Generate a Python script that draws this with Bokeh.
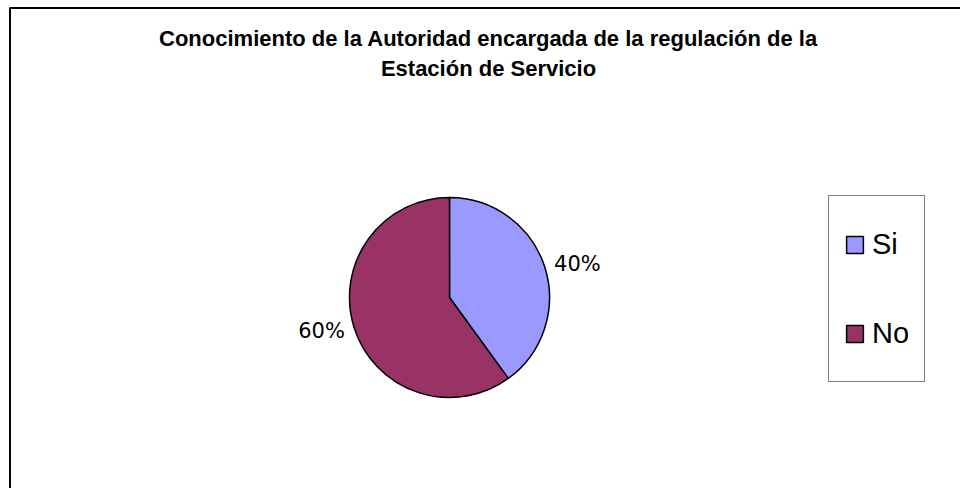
import numpy as np
from bokeh.plotting import figure
from bokeh.models import ColumnDataSource, Range1d, Label, BoxAnnotation
from bokeh.embed import file_html
from bokeh.resources import INLINE

categories = ["Si", "No"]
values = [40, 60]
colors = ["#9999FF", "#993366"]
title_lines = ["Conocimiento de la Autoridad encargada de la regulación de la",
               "Estación de Servicio"]

W, H = 960, 488
PX = 100.0            # pixels per unit (pie radius = 1 unit)
CX, CY = 449, 297     # pie centre in frame pixels (from left / from top)
x0 = -CX / PX
y1 = CY / PX
x1 = x0 + W / PX
y0 = y1 - H / PX

p = figure(width=W, height=H, x_range=Range1d(x0, x1),
           y_range=Range1d(y0, y1), output_backend="svg",
           toolbar_location=None, min_border=0)
p.axis.visible = False
p.grid.visible = False
p.outline_line_color = None
p.background_fill_color = "white"
p.border_fill_color = "white"

vals = np.array(values, dtype=float)
frac = vals / vals.sum()
cum = np.cumsum(frac)
end = np.pi / 2 - 2 * np.pi * (cum - frac)
start = np.pi / 2 - 2 * np.pi * cum

src = ColumnDataSource(dict(cat=categories, start=start, end=end, color=colors))
p.wedge(x=0, y=0, radius=1, start_angle="start", end_angle="end",
        fill_color="color", line_color="black", line_width=1.5,
        legend_field="cat", source=src)

# percentage labels
mid = (start + end) / 2
for m, f in zip(mid, frac):
    lx, ly = 1.1 * np.cos(m), 1.1 * np.sin(m)
    p.add_layout(Label(x=lx, y=ly, text=f"{round(f * 100)}%",
                       text_align="left" if np.cos(m) > 0 else "right",
                       text_baseline="middle", text_font="DejaVu Sans",
                       text_font_size="21px", text_color="black"))

# title
for i, t in enumerate(title_lines):
    p.add_layout(Label(x=x0 + 488 / PX, y=y1 - (38 + 30 * i) / PX, text=t,
                       text_align="center", text_baseline="alphabetic",
                       text_font="Liberation Sans", text_font_style="bold",
                       text_font_size="22px", text_color="black"))

# chart border (right/bottom edges fall outside the window in the reference)
p.add_layout(BoxAnnotation(left=x0 + 9.5 / PX, top=y1 - 7.5 / PX,
                           right=x1 + 0.2, bottom=y0 - 0.2,
                           fill_alpha=0, line_color="black", line_width=2,
                           line_alpha=1))

leg = p.legend[0]
leg.location = (828, 106)
leg.glyph_width = 21
leg.glyph_height = 21
leg.label_standoff = 7
leg.padding = 15
leg.spacing = 23
leg.label_height = 66
leg.margin = 0
leg.label_text_font = "Liberation Sans"
leg.label_text_font_size = "29px"
leg.label_text_color = "black"
leg.border_line_color = "black"
leg.border_line_width = 1
leg.background_fill_alpha = 1

open("out.html", "w").write(file_html(p, INLINE))
